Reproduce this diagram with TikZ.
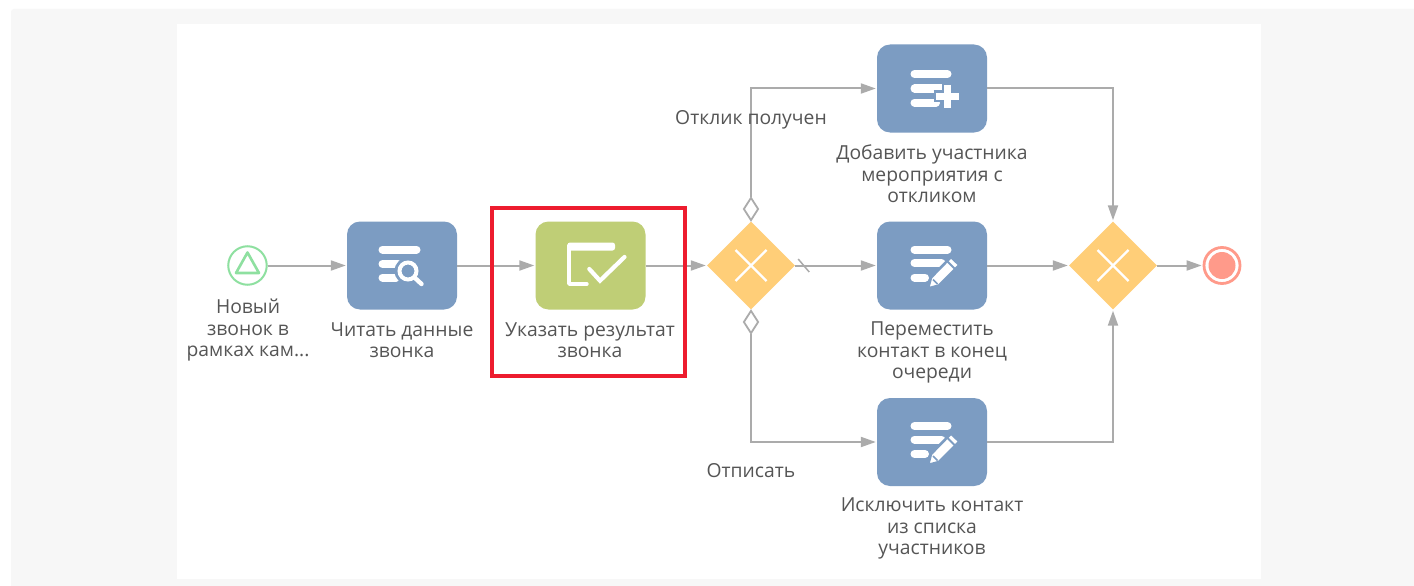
\documentclass[tikz,border=0pt]{standalone}
\usepackage{fontspec}
\setmainfont{Open Sans}
\usetikzlibrary{shapes.geometric,arrows.meta}
\definecolor{taskblue}{HTML}{7C9CC2}
\definecolor{taskgreen}{HTML}{BFCE76}
\definecolor{gatey}{HTML}{FFCE78}
\definecolor{linegray}{HTML}{ABABAB}
\definecolor{txt}{HTML}{555555}
\definecolor{bggray}{HTML}{F7F7F7}
\definecolor{startg}{HTML}{8EE0A0}
\definecolor{endr}{HTML}{FF9A8A}
\definecolor{redbox}{HTML}{ED1C2E}
\tikzset{
  x=1pt,y=-1pt,
  task/.style={rectangle,rounded corners=13pt,minimum width=110pt,minimum height=88pt,inner sep=0pt,fill=#1},
  gate/.style={diamond,aspect=1,minimum width=88pt,minimum height=88pt,inner sep=0pt,fill=gatey},
  lbl/.style={text=txt,font=\fontsize{19.3}{21.4}\selectfont,align=center,inner sep=0pt,anchor=north},
  flow/.style={draw=linegray,line width=2pt,shorten >=1pt,-{Triangle[length=15pt,width=10pt,fill=linegray]}},
  cond/.style={diamond,aspect=0.64,minimum width=15pt,minimum height=23pt,inner sep=0pt,draw=linegray,line width=1.8pt,fill=white},
  ico/.style={draw=white,line width=8pt,line cap=round},
}
\newcommand{\penicon}[2]{%
  \begin{scope}[shift={(#1,#2)}]
    \draw[ico] (-17.5,-16) -- (15.5,-16);
    \draw[ico] (-17.5,-2.5) -- (9.5,-2.5);
    \draw[ico] (-17.5,12) -- (-7,12);
    \draw[draw=taskblue,line width=2.6pt,fill=white] (19,-8.5) -- (27.5,-0.5) -- (7,20) -- (-4,23) -- (-1,12) -- cycle;
    \draw[taskblue,line width=1.8pt] (15,-4.5) -- (23,3.5);
    \draw[taskblue,line width=1.6pt] (1,14) -- (5.5,18.5);
  \end{scope}}
\begin{document}
\begin{tikzpicture}
\useasboundingbox (0,0) rectangle (1414,586);
\fill[white] (0,0) rectangle (1414,586);
\fill[bggray,rounded corners=3pt] (11,9) rectangle (1420,592);
\fill[white] (177,24) rectangle (1261,578.5);

% events
\node[circle,draw=startg,line width=2pt,fill=white,minimum size=38.5pt,inner sep=0pt] (start) at (247.5,265.5) {};
\node[circle,draw=endr,line width=2.8pt,fill=white,minimum size=36pt,inner sep=0pt] (end) at (1222,265.5) {};
\fill[endr] (end.center) circle (13.5);
\draw[startg,line width=2.6pt,line join=round] (247.5,252.5) -- (259,273) -- (236,273) -- cycle;

% tasks
\node[task=taskblue] (read) at (402,265.5) {};
\node[task=taskgreen] (result) at (590.5,265.5) {};
\node[task=taskblue] (add) at (932,88.5) {};
\node[task=taskblue] (move) at (932,265.5) {};
\node[task=taskblue] (excl) at (932,442) {};

% gateways
\node[gate] (g1) at (751,265.5) {};
\node[gate] (g2) at (1113,265.5) {};
\foreach \c in {g1,g2}{
  \draw[white,line width=2.2pt] ([shift={(-15.5,-15.5)}]\c.center) -- ([shift={(15.5,15.5)}]\c.center);
  \draw[white,line width=2.2pt] ([shift={(-15.5,15.5)}]\c.center) -- ([shift={(15.5,-15.5)}]\c.center);
}

% conditional markers
\node[cond] (c1) at (751,209) {};
\node[cond] (c2) at (751,322) {};

% bend coordinates
\coordinate (tl) at (c1.north |- add.west);
\coordinate (bl) at (c2.south |- excl.west);
\coordinate (tr) at (g2.north |- add.east);
\coordinate (br) at (g2.south |- excl.east);

% connectors
\draw[flow] (start) -- (read);
\draw[flow] (read) -- (result);
\draw[flow] (result) -- (g1);
\draw[flow] (g1) -- (move);
\draw[flow] (move) -- (g2);
\draw[flow] (g2) -- (end);
\draw[flow] (c1.north) -- (tl) -- (add.west);
\draw[flow] (c2.south) -- (bl) -- (excl.west);
\draw[flow] (add.east) -- (tr) -- (g2.north);
\draw[flow] (excl.east) -- (br) -- (g2.south);
\draw[linegray,line width=1.5pt] ([shift={(3,-6.5)}]g1.east) -- ([shift={(14,6.5)}]g1.east);

% icons
\begin{scope}[shift={(402,265.5)}]
  \draw[ico] (-19.5,-16) -- (14.5,-16);
  \draw[ico] (-19.5,-1.5) -- (-4,-1.5);
  \draw[ico] (-19.5,12) -- (-6,12);
  \fill[taskblue] (6,5.5) circle (13.5);
  \draw[white,line width=4pt] (6,5.5) circle (8.5);
  \draw[white,line width=4.4pt,line cap=round] (12.5,12) -- (19.5,18.5);
\end{scope}
\begin{scope}[shift={(590.5,265.5)}]
  \fill[white,rounded corners=2.5pt] (-23,-23) rectangle (24.5,-15);
  \draw[white,line width=3.4pt,line cap=round,line join=round] (-3.5,18.5) -- (-21.5,18.5) -- (-21.5,-20);
  \draw[white,line width=4.2pt,line cap=round,line join=miter] (-1.2,3.5) -- (9.5,15.2) -- (34,-8.5);
\end{scope}
\begin{scope}[shift={(932,88.5)}]
  \draw[ico] (-17.5,-14.5) -- (15.5,-14.5);
  \draw[ico] (-17.5,0) -- (10,0);
  \draw[ico] (-17.5,14) -- (4,14);
  \draw[taskblue,line width=11pt] (15,-5.5) -- (15,21.5);
  \draw[taskblue,line width=11pt] (1.5,7.5) -- (29,7.5);
  \draw[white,line width=7pt] (15,-3.5) -- (15,19.5);
  \draw[white,line width=7pt] (3.5,7.5) -- (27,7.5);
\end{scope}
\penicon{932}{265.5}
\penicon{932}{442}

% red frame
\draw[redbox,line width=3.2pt] (492,208) rectangle (685,376);

% labels
\node[lbl] (l0) at (248,299) {Новый\\звонок в\\рамках кам...};
\node[lbl] (l1) at (402,322.5) {Читать данные\\звонка};
\node[lbl] (l2) at (590,322.5) {Указать результат\\звонка};
\node[lbl] (l3) at (932,145) {Добавить участника\\мероприятия с\\откликом};
\node[lbl] (l4) at (932,322) {Переместить\\контакт в конец\\очереди};
\node[lbl] (l5) at (932,498) {Исключить контакт\\из списка\\участников};
\node[lbl] (l6) at (751,110) {Отклик получен};
\node[lbl] (l7) at (751,463) {Отписать};
\end{tikzpicture}
\end{document}
